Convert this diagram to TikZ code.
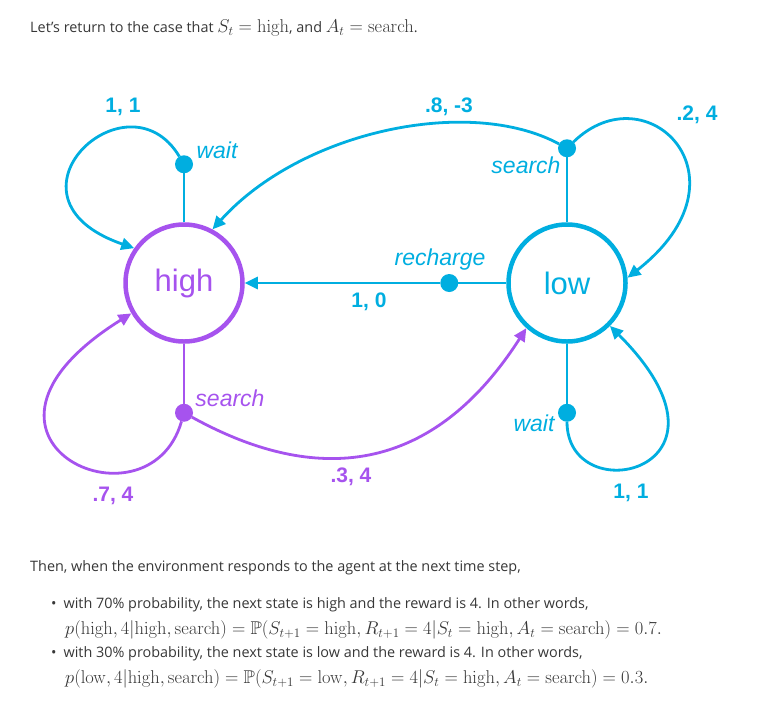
\RequirePackage{fix-cm}
\documentclass[tikz,border=0pt]{standalone}
\usepackage{amsmath}
\usepackage{amssymb}
\usepackage[no-math]{fontspec}
\setmainfont{Open Sans}
\newfontfamily\diagfont{Liberation Sans}
\usetikzlibrary{arrows.meta,positioning}
\definecolor{stateblue}{RGB}{0,174,224}
\definecolor{statepurple}{RGB}{166,83,238}
\definecolor{bodygray}{RGB}{55,55,55}
\newcommand{\mth}[1]{{\fontsize{18.5}{21}\selectfont$#1$}}

\begin{document}
\begin{tikzpicture}[
        x=1pt, y=1pt,
        mdpstate/.style={
            circle,
            minimum size=117pt,
            line width=4.5pt,
            draw,
            fill=white,
            font=\diagfont\fontsize{31}{31}\selectfont
        },
        action/.style={
            circle,
            fill,
            inner sep=0pt,
            outer sep=0pt,
            minimum size=18pt
        },
        stemline/.style={
            line width=2.8pt
        },
        transition/.style={
            line width=2.8pt,
            ->,
            >={Triangle[length=13pt,width=12pt]}
        },
        actlabel/.style={
            font=\diagfont\itshape\fontsize{23}{23}\selectfont
        },
        prob/.style={
            font=\diagfont\bfseries\fontsize{21}{21}\selectfont
        },
        body/.style={
            anchor=west,
            inner sep=0pt,
            text=bodygray,
            font=\fontsize{14.4}{17}\selectfont
        }
    ]
    \useasboundingbox (0,0) rectangle (767,-702);

    % Intro line (top)
    \node[body] (intro) at (30,-28) {Let's return to the case that \mth{S_t=\mathrm{high}}, and \mth{A_t=\mathrm{search}}.};

    % States (high on the left, low on the right)
    \node[mdpstate, draw=statepurple, text=statepurple] (high) at (184,-283) {high};
    \node[mdpstate, draw=stateblue, text=stateblue] (low) at (567,-283) {low};

    % Action dots of high
    \node[action, stateblue, above=49pt of high] (hwait) {};
    \node[action, statepurple, below=60pt of high] (hsearch) {};

    % Action dots of low
    \node[action, stateblue, above=65pt of low] (lsearch) {};
    \node[action, stateblue, below=60pt of low] (lwait) {};
    \node[action, stateblue, left=48pt of low] (lrecharge) {};

    % Stems from states to actions
    \draw[stemline, stateblue] (high) -- (hwait);
    \draw[stemline, statepurple] (high) -- (hsearch);
    \draw[stemline, stateblue] (low) -- (lsearch);
    \draw[stemline, stateblue] (low) -- (lwait);
    \draw[stemline, stateblue] (low) -- (lrecharge);

    % high, wait
    \draw[transition, stateblue] (hwait) .. controls +(-57,95) and +(-145,50) .. (high.145);
    % high, search
    \draw[transition, statepurple] (hsearch) .. controls +(-36,-125) and +(-200,-125) .. (high.210);
    \draw[transition, statepurple] (hsearch) .. controls +(103,-57) and +(-109,-170) .. (low.228);
    % low, search
    \draw[transition, stateblue] (lsearch) .. controls +(80,78) and +(128,100) .. (low.5);
    \draw[transition, stateblue] (lsearch) .. controls +(-98,53) and +(88,98) .. (high.62);
    % low, wait
    \draw[transition, stateblue] (lwait) .. controls +(0,-100) and +(145,-145) .. (low.-45);
    % low, recharge
    \draw[transition, stateblue] (lrecharge) -- (high);

    % Action labels
    \node[actlabel, stateblue] (lblhwait) at (217,-150) {wait};
    \node[actlabel, statepurple] (lblhsearch) at (230,-398) {search};
    \node[actlabel, stateblue] (lbllsearch) at (526,-165) {search};
    \node[actlabel, stateblue] (lbllwait) at (534,-423) {wait};
    \node[actlabel, stateblue] (lblrecharge) at (440,-260) {recharge};

    % Probability, reward labels
    \node[prob, stateblue] (phw) at (123,-107) {1, 1};
    \node[prob, stateblue] (plsh) at (449,-107) {.8, -3};
    \node[prob, stateblue] (plsl) at (697,-115) {.2, 4};
    \node[prob, stateblue] (plr) at (369,-302) {1, 0};
    \node[prob, statepurple] (phsh) at (113,-496) {.7, 4};
    \node[prob, statepurple] (phsl) at (351,-477) {.3, 4};
    \node[prob, stateblue] (plw) at (631,-493) {1, 1};

    % Text below the diagram
    \node[body] (then) at (30,-568) {Then, when the environment responds to the agent at the next time step,};
    \node[body] (item1) at (51,-605) {\textbullet\hspace{7pt}with 70\% probability, the next state is high and the reward is 4. In other words,};
    \node[body] (eq1) at (65,-630) {\mth{p(\mathrm{high},4|\mathrm{high},\mathrm{search})=\mathbb{P}(S_{t+1}=\mathrm{high},R_{t+1}=4|S_t=\mathrm{high},A_t=\mathrm{search})=0.7.}};
    \node[body] (item2) at (51,-654) {\textbullet\hspace{7pt}with 30\% probability, the next state is low and the reward is 4. In other words,};
    \node[body] (eq2) at (65,-679) {\mth{p(\mathrm{low},4|\mathrm{high},\mathrm{search})=\mathbb{P}(S_{t+1}=\mathrm{low},R_{t+1}=4|S_t=\mathrm{high},A_t=\mathrm{search})=0.3.}};
\end{tikzpicture}
\end{document}
